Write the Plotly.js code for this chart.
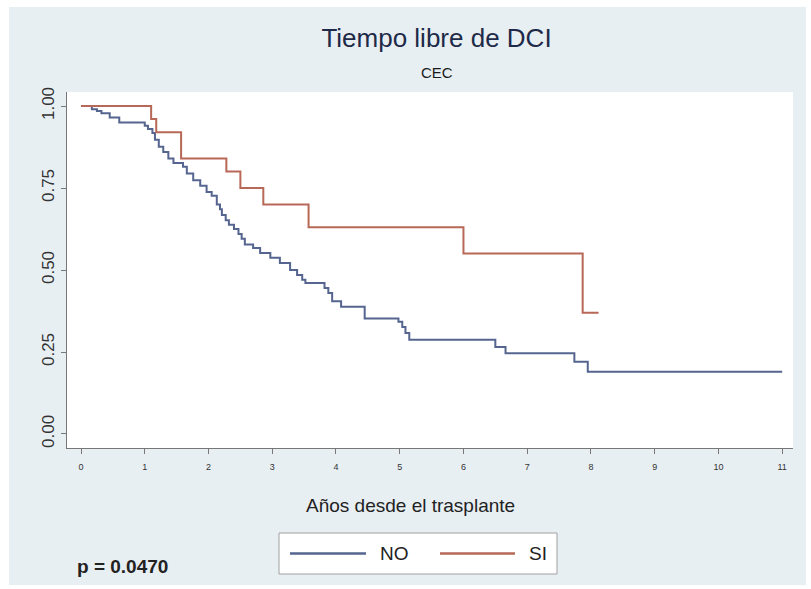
<!DOCTYPE html>
<html>
<head>
<meta charset="utf-8">
<script src="https://cdn.plot.ly/plotly-3.0.1.min.js"></script>
<style>html,body{margin:0;padding:0;background:#fff;}</style>
</head>
<body>
<div id="chart" style="width:811px;height:589px;"></div>
<script>
// Kaplan-Meier step data
const noTime = [0, 0.17, 0.25, 0.32, 0.45, 0.60, 1.00, 1.05, 1.12, 1.16, 1.22, 1.29, 1.37, 1.45, 1.60, 1.66, 1.76, 1.87, 1.97, 2.05, 2.13, 2.18, 2.21, 2.27, 2.32, 2.40, 2.47, 2.52, 2.57, 2.70, 2.81, 2.97, 3.12, 3.28, 3.39, 3.47, 3.52, 3.82, 3.88, 3.94, 4.08, 4.45, 4.98, 5.04, 5.09, 5.15, 6.50, 6.66, 7.74, 7.95, 11.0];
const noSurv = [1.0, 0.99, 0.985, 0.978, 0.965, 0.95, 0.94, 0.93, 0.918, 0.897, 0.876, 0.86, 0.84, 0.826, 0.815, 0.794, 0.774, 0.757, 0.738, 0.726, 0.70, 0.685, 0.668, 0.652, 0.638, 0.625, 0.61, 0.595, 0.578, 0.567, 0.552, 0.537, 0.521, 0.50, 0.485, 0.47, 0.46, 0.445, 0.43, 0.405, 0.388, 0.352, 0.342, 0.326, 0.308, 0.287, 0.265, 0.246, 0.22, 0.19, 0.19];
const siTime = [0, 1.10, 1.18, 1.57, 2.28, 2.50, 2.86, 3.57, 6.00, 7.87, 8.12];
const siSurv = [1.0, 0.96, 0.92, 0.84, 0.80, 0.75, 0.70, 0.63, 0.55, 0.37, 0.37];
const seriesNames = ["NO", "SI"];
const seriesColors = ["#55658f", "#b86856"];
const xTickVals = [0, 1, 2, 3, 4, 5, 6, 7, 8, 9, 10, 11];
const yTickVals = [0, 0.25, 0.5, 0.75, 1];
const yTickText = ["0.00", "0.25", "0.50", "0.75", "1.00"];
const titleText = "Tiempo libre de DCI";
const subtitleText = "CEC";
const xTitleText = "Años desde el trasplante";
const pText = "p = 0.0470";

const FONT = "Liberation Sans, Arial, sans-serif";

const traces = [
  {x: noTime, y: noSurv, name: seriesNames[0], type: "scatter", mode: "lines",
   line: {shape: "hv", color: seriesColors[0], width: 2}, showlegend: false},
  {x: siTime, y: siSurv, name: seriesNames[1], type: "scatter", mode: "lines",
   line: {shape: "hv", color: seriesColors[1], width: 2}, showlegend: false}
];

// helpers: figure pixels -> paper coordinates (plot area 67..793 x 92..448)
const px = v => (v - 67) / 726;
const py = v => (448 - v) / 356;

// legend (box, key lines, labels) drawn as shapes + annotations
const legendLines = [
  {x0: 290, x1: 366, tx: 378},
  {x0: 440, x1: 515, tx: 527}
];
const legendY = 553.5;

const shapes = [
  {type: "rect", xref: "paper", yref: "paper", x0: px(9), x1: px(806), y0: py(585), y1: py(7),
   fillcolor: "#e8eff3", line: {width: 0}, layer: "below"},
  {type: "rect", xref: "paper", yref: "paper", x0: 0, x1: 1, y0: 0, y1: 1,
   fillcolor: "#ffffff", line: {width: 0}, layer: "below"},
  {type: "rect", xref: "paper", yref: "paper", x0: px(279), x1: px(557), y0: py(574), y1: py(533),
   fillcolor: "#ffffff", line: {width: 1, color: "#a0a0a0"}, layer: "above"}
];
const annotations = [
  {text: subtitleText, xref: "paper", yref: "paper", x: px(437), y: py(72), xanchor: "center", yanchor: "middle",
   showarrow: false, font: {family: FONT, size: 15, color: "#1a1a1a"}},
  {text: xTitleText, xref: "paper", yref: "paper", x: px(410), y: py(505), xanchor: "center", yanchor: "middle",
   showarrow: false, font: {family: FONT, size: 19, color: "#222"}},
  {text: "<b>" + pText + "</b>", xref: "paper", yref: "paper", x: px(75), y: py(566), xanchor: "left", yanchor: "middle",
   showarrow: false, font: {family: FONT, size: 19, color: "#222"}}
];
seriesNames.forEach((name, i) => {
  const L = legendLines[i];
  shapes.push({type: "line", xref: "paper", yref: "paper", x0: px(L.x0), x1: px(L.x1), y0: py(legendY), y1: py(legendY),
               line: {color: seriesColors[i], width: 2.5}, layer: "above"});
  annotations.push({text: name, xref: "paper", yref: "paper", x: px(L.tx), y: py(legendY), xanchor: "left", yanchor: "middle",
                    showarrow: false, font: {family: FONT, size: 19, color: "#222"}});
});

const layout = {
  width: 811, height: 589,
  margin: {l: 67, r: 18, t: 92, b: 141},
  paper_bgcolor: "#ffffff",
  plot_bgcolor: "#ffffff",
  font: {family: FONT, color: "#222"},
  showlegend: false,
  title: {text: titleText, font: {family: FONT, size: 26, color: "#1e2a48"},
          xref: "paper", x: px(436.5), xanchor: "center", yref: "container", y: 1 - 38/589, yanchor: "middle"},
  xaxis: {
    range: [-0.22, 11.17], tickvals: xTickVals, ticks: "outside", ticklen: 5, tickwidth: 1,
    tickcolor: "#777", showline: true, linecolor: "#777", linewidth: 1, showgrid: false,
    zeroline: false, ticklabelstandoff: 5, tickfont: {family: FONT, size: 9, color: "#333"}
  },
  yaxis: {
    range: [-0.0427, 1.0427], tickvals: yTickVals, ticktext: yTickText, ticks: "outside",
    ticklen: 5, tickwidth: 1, tickcolor: "#777", showline: true, linecolor: "#777", linewidth: 1,
    showgrid: false, zeroline: false, tickangle: -90,
    tickfont: {family: FONT, size: 17, color: "#333"}
  },
  shapes: shapes,
  annotations: annotations
};

Plotly.newPlot("chart", traces, layout, {displayModeBar: false, staticPlot: true});
</script>
</body>
</html>
